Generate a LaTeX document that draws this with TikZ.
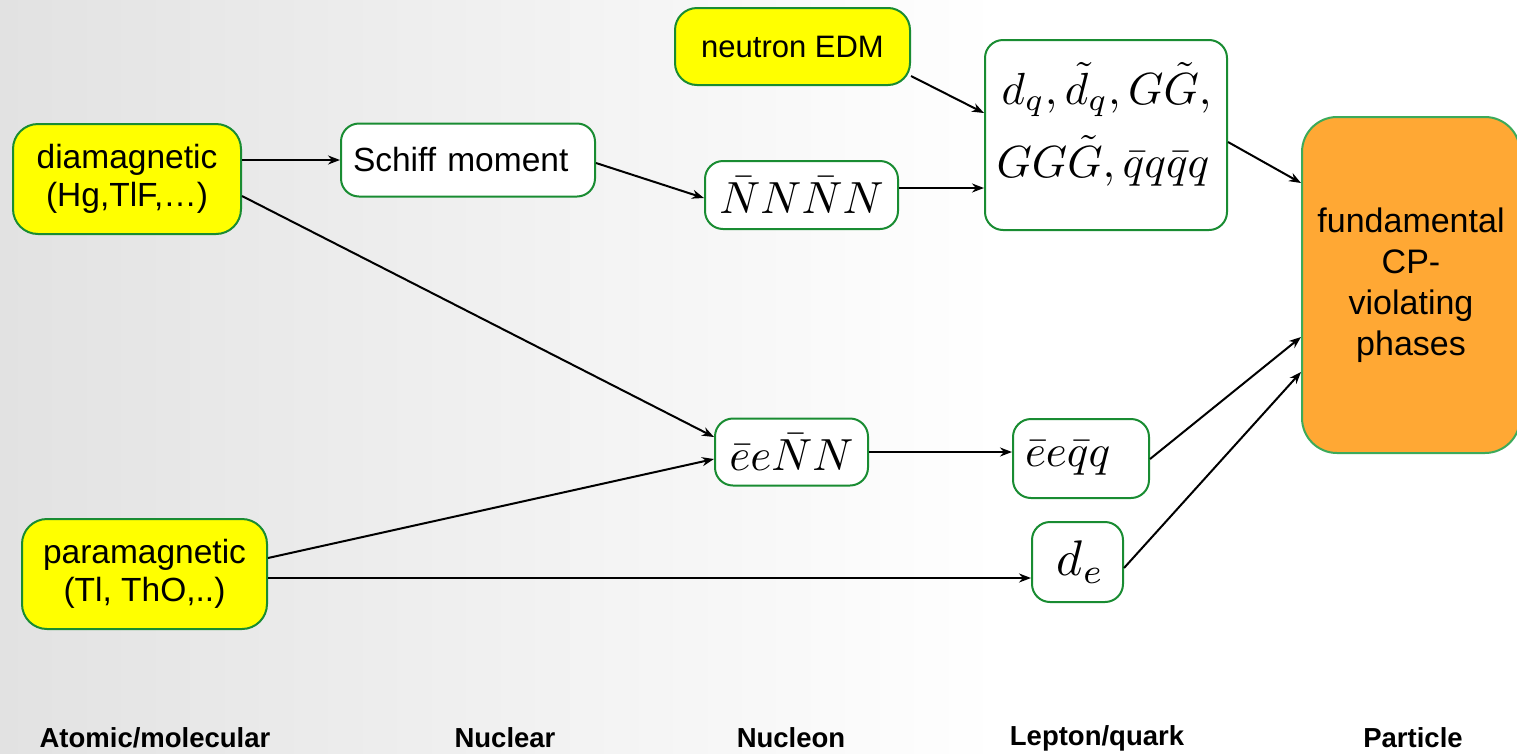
\documentclass[tikz,border=0pt]{standalone}
\usepackage{graphicx}
\usepackage{fontspec}
\setmainfont{Liberation Sans}
\usetikzlibrary{arrows.meta,calc}
\definecolor{boxgreen}{RGB}{25,140,50}
\definecolor{fundgreen}{RGB}{60,170,90}
\definecolor{srcyellow}{RGB}{255,255,0}
\definecolor{phaseorange}{RGB}{255,168,52}
\definecolor{bggray}{RGB}{226,226,226}
% large math set at 10pt and magnified
\newcommand{\bigmath}[2][4.5]{\scalebox{#1}{$#2$}}
\begin{document}
\begin{tikzpicture}[x=1pt,y=-1pt,
  box/.style={draw=boxgreen, line width=2pt, rounded corners=18pt, fill=white,
    inner sep=0pt, align=center},
  source/.style={box, fill=srcyellow, rounded corners=25pt,
    font=\fontsize{33.5}{38}\selectfont},
  termbox/.style={box},
  mathline/.style={anchor=base, inner sep=0pt},
  flow/.style={line width=2pt, -{Stealth[length=12pt,width=9pt]}},
  tier/.style={font=\fontsize{27.5}{30}\selectfont\bfseries}
]
\useasboundingbox (0,0) rectangle (1517,753);
% background: light grey on the left fading to white
\fill[white] (0,0) rectangle (1517,753);
\shade[left color=bggray, right color=white] (0,0) rectangle (1000,753);

% experimental inputs
\node[source, minimum width=228pt, minimum height=110pt] (dia) at (127,179)
  {diamagnetic\\(Hg,TlF,…)};
\node[source, minimum width=245pt, minimum height=110pt] (para) at (144.5,574)
  {paramagnetic\\(Tl, ThO,..)};
\node[source, minimum width=235pt, minimum height=77pt, rounded corners=22pt,
  font=\fontsize{31}{36}\selectfont] (nedm) at (792.5,46.5) {neutron EDM};

% nuclear level
\node[box, minimum width=254pt, minimum height=73pt, text width=230pt, align=left,
  font=\fontsize{33.5}{38}\selectfont] (schiff) at (468,160) {Schiff moment};

% nucleon level
\node[termbox, minimum width=193pt, minimum height=68pt] (nnnn) at (801.5,195)
  {\bigmath{\bar{N}N\bar{N}N}};
\node[termbox, minimum width=153pt, minimum height=67pt] (eenn) at (791.5,452)
  {\bigmath{\bar{e}e\bar{N}N}};

% lepton/quark level: the box and its two lines of operators
\node[termbox, minimum width=242pt, minimum height=190pt] (quark) at (1106,135) {};
\node[mathline] (q1) at (1106.5,104) {\bigmath{d_q,\tilde{d}_q,G\tilde{G},}};
\node[mathline] (q2) at (1103,177) {\bigmath{GG\tilde{G},\bar{q}q\bar{q}q}};
\node[termbox, minimum width=136pt, minimum height=79pt, text width=112pt, align=left]
  (eeqq) at (1081,458.5) {\bigmath{\bar{e}e\bar{q}q}};
\node[termbox, minimum width=91pt, minimum height=80pt] (de) at (1077.5,562)
  {\hspace*{6pt}\bigmath[5]{d_e}};

% particle level
\node[box, draw=fundgreen, fill=phaseorange, rounded corners=35pt,
  minimum width=218pt, minimum height=336pt, font=\fontsize{34}{41}\selectfont]
  (fund) at (1411,285) {fundamental\\CP-\\violating\\phases};

% connectors
\draw[flow] (dia.east |- schiff.west) -- (schiff.west);
\draw[flow] ($(schiff.east)+(0,3)$) -- ($(nnnn.west)+(0,3)$);
\draw[flow] ($(dia.east)+(0,17)$) -- ($(eenn.west)+(0,-15)$);
\draw[flow] ($(para.east)+(0,-16)$) -- ($(eenn.west)+(0,7)$);
\draw[flow] ($(para.east)+(0,4)$) coordinate (pa) -- (de.west |- pa);
\draw[flow] ($(nnnn.east)+(0,-7)$) coordinate (na) -- (quark.west |- na);
\draw[flow] ($(nedm.east)+(0,29.5)$) -- ($(quark.west)+(0,-22)$);
\draw[flow] ($(quark.east)+(0,7)$) -- ($(fund.west)+(0,-102)$);
\draw[flow] (eenn.east) -- (eeqq.west |- eenn.east);
\draw[flow] ($(eeqq.east)+(0,0.5)$) -- ($(fund.west)+(0,52)$);
\draw[flow] ($(de.east)+(0,6)$) -- ($(fund.west)+(0,87)$);

% level labels along the bottom
\node[tier] (l1) at (155,738) {Atomic/molecular};
\node[tier] (l2) at (505,738) {Nuclear};
\node[tier] (l3) at (791,738) {Nucleon};
\node[tier] (l4) at (1097,738) {Lepton/quark};
\node[tier] (l5) at (1413,738) {Particle};
\end{tikzpicture}
\end{document}
